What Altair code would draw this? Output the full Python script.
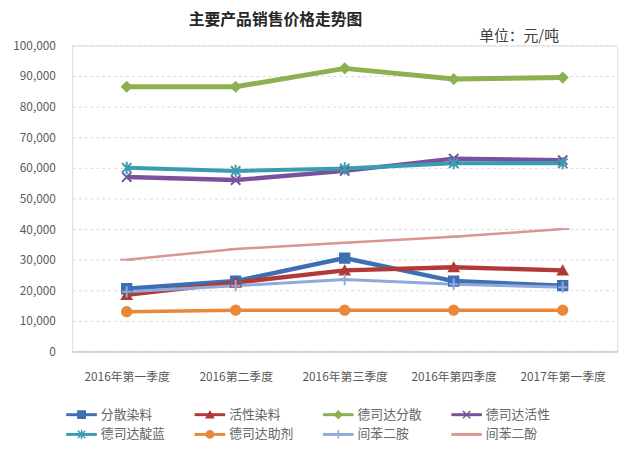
import altair as alt
import pandas as pd

quarters = ["2016年第一季度", "2016第二季度", "2016年第三季度", "2016年第四季度", "2017年第一季度"]
series = ["分散染料", "活性染料", "德司达分散", "德司达活性", "德司达靛蓝", "德司达助剂", "间苯二胺", "间苯二酚"]

v_fensan = [20500, 23000, 30500, 23000, 21500]
v_huoxing = [18500, 22500, 26500, 27500, 26500]
v_dsd_fensan = [86500, 86500, 92500, 89000, 89500]
v_dsd_huoxing = [57000, 56000, 59000, 63000, 62500]
v_dsd_dianlan = [60000, 59000, 59800, 61500, 61500]
v_dsd_zhuji = [13000, 13500, 13500, 13500, 13500]
v_jianbenerAn = [19500, 21500, 23500, 22000, 21000]
v_jianbenerFen = [30000, 33500, 35500, 37500, 40000]

values = [v_fensan, v_huoxing, v_dsd_fensan, v_dsd_huoxing, v_dsd_dianlan,
          v_dsd_zhuji, v_jianbenerAn, v_jianbenerFen]

colors = ["#3E6FB4", "#B23A36", "#8DB050", "#7A519C", "#3A9CB0", "#E8893A", "#8FAADA", "#D99694"]
shapes = ["square", "triangle-up", "diamond",
          "M-1,-1L1,1M-1,1L1,-1",
          "M-1,-1L1,1M-1,1L1,-1M0,-1.3V1.3",
          "circle",
          "M0,-1.2V1.2M-1,0H1",
          "M-1.4,0H1.4"]
widths = [4.5, 4.5, 5, 4.5, 4, 3.5, 3, 2.5]

rows = []
for si, (name, vals) in enumerate(zip(series, values)):
    for q, v in zip(quarters, vals):
        rows.append({"季度": q, "系列": name, "价格": v, "order": si, "w": widths[si]})
df = pd.DataFrame(rows)

# legend table: 4 columns x 2 rows, row-major
leg_df = pd.DataFrame({
    "系列": series,
    "col": [i % 4 for i in range(len(series))],
    "row": [i // 4 for i in range(len(series))],
})

FONT = "Noto Sans CJK SC"

x_enc = alt.X("季度:N", sort=quarters,
              scale=alt.Scale(type="point", padding=0.5),
              axis=alt.Axis(title=None, labelAngle=0, labelFontSize=12, labelColor="#595959",
                            labelFont=FONT, labelPadding=20, ticks=False,
                            domainColor="#bfbfbf", domainWidth=1, grid=False))
y_enc = alt.Y("价格:Q", scale=alt.Scale(domain=[0, 100000], nice=False),
              axis=alt.Axis(title=None, values=list(range(0, 100001, 10000)), format=",.0f",
                            labelFontSize=12, labelColor="#595959", labelFont=FONT,
                            labelPadding=17, ticks=False, domain=False,
                            gridColor="#d9d9d9", gridDash=[3, 3], gridWidth=1))

color_scale = alt.Scale(domain=series, range=colors)
shape_scale = alt.Scale(domain=series, range=shapes)
col_enc = alt.Color("系列:N", scale=color_scale, legend=None)

lines = alt.Chart(df).mark_line().encode(
    x=x_enc, y=y_enc,
    color=col_enc,
    strokeWidth=alt.StrokeWidth("w:Q", scale=None),
    detail="系列:N",
    order="order:Q",
)

points = alt.Chart(df).mark_point(filled=True, size=90, strokeWidth=2, opacity=1).encode(
    x=x_enc, y=y_enc,
    color=col_enc,
    stroke=alt.Stroke("系列:N", scale=color_scale, legend=None),
    shape=alt.Shape("系列:N", scale=shape_scale, legend=None),
)

unit_df = pd.DataFrame({"t": ["单位：元/吨"]})
unit = alt.Chart(unit_df).mark_text(align="right", baseline="middle", fontSize=15,
                                     font=FONT, color="#404040").encode(
    text="t:N", x=alt.value(493), y=alt.value(-9))

main = alt.layer(lines, points, unit)

lx = alt.X("col:Q", scale=alt.Scale(domain=[0, 3], range=[-6, 384]), axis=None)
ly = alt.Y("row:Q", scale=alt.Scale(domain=[0, 1], range=[374, 394]), axis=None)

leg_lines = alt.Chart(leg_df).mark_rule(x2Offset=31, strokeWidth=3).encode(
    x=lx, x2="col:Q", y=ly, color=col_enc)
leg_points = alt.Chart(leg_df).mark_point(filled=True, size=55, strokeWidth=1.5, xOffset=15.5,
                                           opacity=1).encode(
    x=lx, y=ly, color=col_enc,
    stroke=alt.Stroke("系列:N", scale=color_scale, legend=None),
    shape=alt.Shape("系列:N", scale=shape_scale, legend=None))
leg_text = alt.Chart(leg_df).mark_text(align="left", baseline="middle", dx=35, fontSize=13,
                                        font=FONT, color="#666666").encode(
    x=lx, y=ly, text="系列:N")

legend_layer = alt.layer(leg_lines, leg_points, leg_text)

chart = alt.layer(main, legend_layer).resolve_scale(
    x="independent", y="independent"
).properties(
    width=552, height=310,
    title=alt.Title("主要产品销售价格走势图", anchor="middle", dx=-70, offset=2,
                    fontSize=16, fontWeight="bold", font=FONT, color="#262626"),
    autosize=alt.AutoSizeParams(type="none"),
    padding={"left": 65, "top": 35, "right": 15, "bottom": 106},
).configure_view(stroke=None).configure(background="white")

chart.save("out.html", embed_options={"renderer": "svg", "actions": False})
